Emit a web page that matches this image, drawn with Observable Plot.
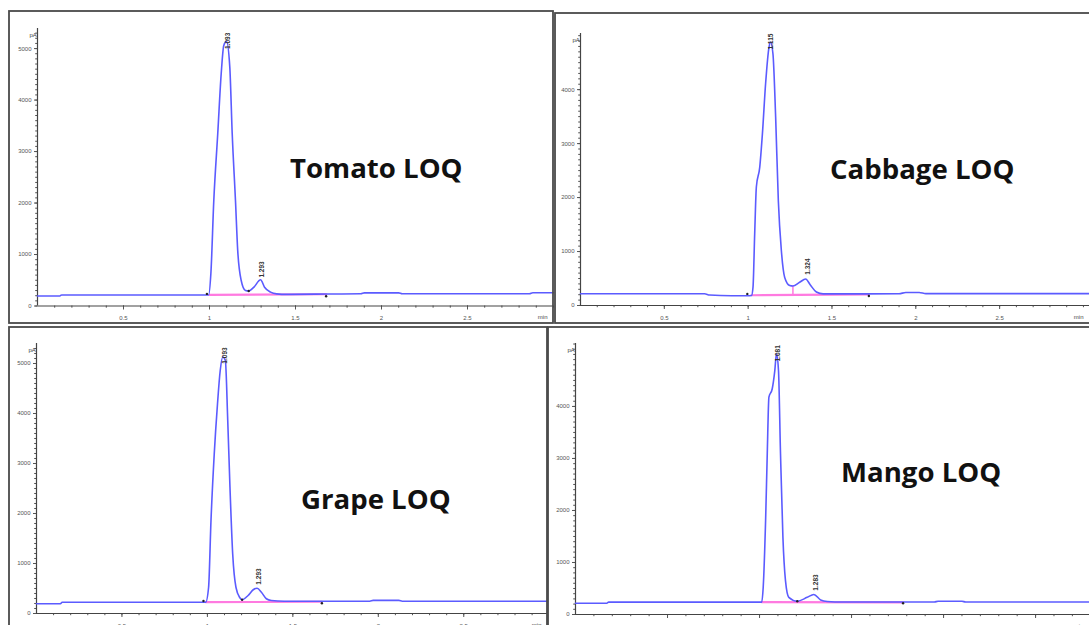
<!DOCTYPE html>
<html>
<head>
<meta charset="utf-8">
<script src="https://cdn.jsdelivr.net/npm/d3@7"></script>
<script src="https://cdn.jsdelivr.net/npm/@observablehq/plot@0.6"></script>
<style>
  html, body { margin: 0; padding: 0; background: #fff; }
  #root { position: relative; width: 1089px; height: 625px; overflow: hidden; background: #fff; }
  .panel { position: absolute; }
  #overlay { position: absolute; left: 0; top: 0; pointer-events: none; }
</style>
</head>
<body>
<div id="root"></div>
<script>
// ---------- shared tick labels ----------
const xTickValues = [0.5, 1, 1.5, 2, 2.5];
const yTicksTo5000 = [0, 1000, 2000, 3000, 4000, 5000];
const yTicksTo4000 = [0, 1000, 2000, 3000, 4000];
const unitLabel = "pA";
const timeUnitLabel = "min";

// ---------- Tomato LOQ ----------
const tomatoTitle = "Tomato LOQ";
const tomatoTime   = [0, 0.13, 0.14, 0.995, 1.008, 1.025, 1.048, 1.068, 1.083, 1.099, 1.118, 1.132, 1.151, 1.164, 1.184, 1.209, 1.228, 1.258, 1.297, 1.32, 1.355, 1.39, 1.45, 1.68, 1.88, 1.9, 2.1, 2.12, 2.86, 2.88, 3.0];
const tomatoSignal = [195, 195, 215, 215, 630, 2050, 3350, 4510, 5060, 5140, 4640, 3350, 2050, 1080, 500, 300, 290, 365, 510, 365, 270, 235, 225, 232, 237, 255, 255, 237, 237, 256, 256];
const tomatoPeakTime   = [1.105, 1.305];
const tomatoPeakSignal = [5150, 710];
const tomatoPeakText   = ["1.093", "1.293"];
const tomatoBaseTime   = [1.0, 1.678];
const tomatoBaseSignal = [215, 228];
const tomatoMarkTime   = [0.985, 1.228, 1.678];
const tomatoMarkSignal = [235, 290, 190];

// ---------- Cabbage LOQ ----------
const cabbageTitle = "Cabbage LOQ";
const cabbageTime   = [0, 0.74, 0.77, 0.9, 1.0, 1.02, 1.029, 1.039, 1.049, 1.069, 1.085, 1.104, 1.124, 1.134, 1.148, 1.164, 1.18, 1.198, 1.218, 1.248, 1.267, 1.307, 1.343, 1.371, 1.407, 1.447, 1.7, 1.9, 1.94, 2.02, 2.06, 3.04];
const cabbageSignal = [217, 217, 195, 180, 180, 185, 340, 1330, 2200, 2560, 3180, 4110, 4780, 4880, 4660, 3490, 1940, 1020, 520, 370, 360, 430, 490, 380, 250, 215, 215, 218, 240, 240, 220, 220];
const cabbagePeakTime   = [1.137, 1.355];
const cabbagePeakSignal = [4890, 722];
const cabbagePeakText   = ["1.115", "1.324"];
const cabbageBaseTime   = [1.02, 1.72];
const cabbageBaseSignal = [190, 205];
const cabbageDropTime   = [1.267];
const cabbageDropTop    = [360];
const cabbageMarkTime   = [0.995, 1.72];
const cabbageMarkSignal = [215, 175];

// ---------- Grape LOQ ----------
const grapeTitle = "Grape LOQ";
const grapeTime   = [0, 0.14, 0.15, 0.99, 1.007, 1.021, 1.04, 1.059, 1.075, 1.09, 1.105, 1.119, 1.132, 1.148, 1.167, 1.19, 1.203, 1.238, 1.268, 1.291, 1.316, 1.345, 1.374, 1.45, 1.95, 1.97, 2.12, 2.14, 2.99];
const grapeSignal = [194, 194, 226, 226, 525, 1860, 3190, 4190, 4860, 5130, 5060, 3860, 2530, 1190, 525, 315, 275, 360, 475, 505, 425, 295, 260, 245, 245, 262, 262, 245, 245];
const grapePeakTime   = [1.1, 1.3];
const grapePeakSignal = [5160, 740];
const grapePeakText   = ["1.093", "1.293"];
const grapeBaseTime   = [0.99, 1.67];
const grapeBaseSignal = [226, 235];
const grapeMarkTime   = [0.977, 1.203, 1.67];
const grapeMarkSignal = [250, 275, 205];

// ---------- Mango LOQ ----------
const mangoTitle = "Mango LOQ";
const mangoTime   = [0, 0.17, 0.18, 1.012, 1.02, 1.033, 1.042, 1.051, 1.069, 1.083, 1.092, 1.103, 1.114, 1.127, 1.141, 1.159, 1.205, 1.259, 1.295, 1.332, 1.368, 1.45, 1.95, 1.97, 2.1, 2.12, 2.8];
const mangoSignal = [217, 217, 237, 237, 525, 1810, 3090, 4180, 4340, 4690, 5010, 4690, 3090, 1490, 650, 330, 255, 330, 385, 280, 250, 240, 240, 255, 255, 240, 240];
const mangoPeakTime   = [1.099, 1.304];
const mangoPeakSignal = [5020, 615];
const mangoPeakText   = ["1.081", "1.283"];
const mangoBaseTime   = [1.012, 1.78];
const mangoBaseSignal = [237, 235];
const mangoMarkTime   = [1.205, 1.78];
const mangoMarkSignal = [255, 215];

// ---------- drawing ----------
const root = document.getElementById("root");
const BLUE = "#5b5bff";
const PINK = "#ff7ae0";
const AXIS = "#555";

function zip(xs, ys) { return xs.map((x, i) => ({x, y: ys[i]})); }

function drawPanel(p) {
  const trace = zip(p.time, p.signal);
  const base = zip(p.baseTime, p.baseSignal);
  const marks = zip(p.markTime, p.markSignal);
  const labels = p.peakTime.map((t, i) => ({x: t, y: p.peakSignal[i], text: p.peakText[i]}));
  const drops = (p.dropTime || []).map((t, i) => ({x: t, y1: p.dropBottom, y2: p.dropTop[i]}));
  const minorX = d3.range(0.1, p.xMax + 0.001, 0.1);
  const minorY = d3.range(0, p.yMax, 100);
  const chart = Plot.plot({
    width: p.w, height: p.h,
    marginLeft: p.ml, marginRight: 0, marginTop: p.mt, marginBottom: p.mb,
    x: {domain: [0, p.xMax], axis: null, label: null},
    y: {domain: [0, p.yMax], axis: null, label: null},
    style: {fontFamily: "'Liberation Sans', Arial, sans-serif", background: "transparent", overflow: "visible"},
    marks: [
      Plot.axisY({ticks: minorY, tickSize: 1.8, tickFormat: () => "", color: AXIS, label: null}),
      Plot.axisY({ticks: p.yTicks, tickSize: 3, tickPadding: 3, fontSize: 6, tickFormat: d => String(d), color: AXIS, label: null}),
      Plot.axisX({ticks: minorX, tickSize: 2.2, tickFormat: () => "", color: AXIS, label: null}),
      Plot.axisX({ticks: xTickValues, tickSize: 4, tickPadding: 6, fontSize: 6, tickFormat: d => String(d), color: AXIS, label: null}),
      Plot.ruleY([0], {stroke: "#444", strokeWidth: 1.2}),
      Plot.ruleX([0], {y1: 0, y2: p.yMax, stroke: "#444", strokeWidth: 1.2}),
      Plot.text([unitLabel], {frameAnchor: "top-left", dx: -8, dy: 4, fontSize: 6, fill: "#444"}),
      Plot.text([timeUnitLabel], {frameAnchor: "bottom-right", dx: -6, dy: 13, fontSize: 6, fill: "#444"}),
      Plot.line(base, {x: "x", y: "y", stroke: PINK, strokeWidth: 2.2}),
      Plot.ruleX(drops, {x: "x", y1: "y1", y2: "y2", stroke: PINK, strokeWidth: 1.5}),
      Plot.line(trace, {x: "x", y: "y", stroke: BLUE, strokeWidth: 1.6, curve: "monotone-x"}),
      Plot.dot(marks, {x: "x", y: "y", r: 1.2, fill: "#222", stroke: "none"}),
      Plot.text(labels, {x: "x", y: "y", text: "text", rotate: -90, fontSize: 6.5, fill: "#333", fontWeight: "bold"})
    ]
  });
  chart.classList.add("panel");
  chart.style.left = p.left + "px";
  chart.style.top = p.top + "px";
  root.appendChild(chart);
}

const panels = [
  {title: tomatoTitle, time: tomatoTime, signal: tomatoSignal, peakTime: tomatoPeakTime, peakSignal: tomatoPeakSignal, peakText: tomatoPeakText,
   baseTime: tomatoBaseTime, baseSignal: tomatoBaseSignal, markTime: tomatoMarkTime, markSignal: tomatoMarkSignal,
   yTicks: yTicksTo5000, left: 9, top: 11, w: 544, h: 313, ml: 28, mt: 17, mb: 18.5, xMax: 3.0, yMax: 5390,
   titleX: 290, titleY: 178},
  {title: cabbageTitle, time: cabbageTime, signal: cabbageSignal, peakTime: cabbagePeakTime, peakSignal: cabbagePeakSignal, peakText: cabbagePeakText,
   baseTime: cabbageBaseTime, baseSignal: cabbageBaseSignal, markTime: cabbageMarkTime, markSignal: cabbageMarkSignal,
   dropTime: cabbageDropTime, dropTop: cabbageDropTop, dropBottom: 195,
   yTicks: yTicksTo4000, left: 555, top: 13, w: 534, h: 310, ml: 25, mt: 20, mb: 18, xMax: 3.036, yMax: 5040,
   titleX: 830, titleY: 179},
  {title: grapeTitle, time: grapeTime, signal: grapeSignal, peakTime: grapePeakTime, peakSignal: grapePeakSignal, peakText: grapePeakText,
   baseTime: grapeBaseTime, baseSignal: grapeBaseSignal, markTime: grapeMarkTime, markSignal: grapeMarkSignal,
   yTicks: yTicksTo5000, left: 9, top: 327, w: 538, h: 298, ml: 27, mt: 16, mb: 12, xMax: 2.99, yMax: 5400,
   titleX: 301, titleY: 509},
  {title: mangoTitle, time: mangoTime, signal: mangoSignal, peakTime: mangoPeakTime, peakSignal: mangoPeakSignal, peakText: mangoPeakText,
   baseTime: mangoBaseTime, baseSignal: mangoBaseSignal, markTime: mangoMarkTime, markSignal: mangoMarkSignal,
   yTicks: yTicksTo4000, left: 548, top: 327, w: 541, h: 298, ml: 27, mt: 16, mb: 11, xMax: 2.793, yMax: 5210,
   titleX: 841, titleY: 482}
];

panels.forEach(drawPanel);

// overlay: panel frames and titles
const overlay = d3.select(root).append("svg")
  .attr("id", "overlay").attr("width", 1089).attr("height", 625);
const frames = [
  {x: 9, y: 11, w: 544, h: 312},
  {x: 555, y: 13, w: 545, h: 310},
  {x: 9, y: 327, w: 538, h: 310},
  {x: 548, y: 327, w: 552, h: 310}
];
overlay.selectAll("rect.frame").data(frames).join("rect")
  .attr("class", "frame")
  .attr("x", d => d.x).attr("y", d => d.y).attr("width", d => d.w).attr("height", d => d.h)
  .attr("fill", "none").attr("stroke", "#4a4a4a").attr("stroke-width", 1.8);
overlay.selectAll("text.title").data(panels).join("text")
  .attr("class", "title")
  .attr("x", d => d.titleX).attr("y", d => d.titleY)
  .attr("font-family", "'Open Sans', sans-serif").attr("font-weight", 700).attr("font-size", 27.6)
  .attr("fill", "#111")
  .text(d => d.title);
</script>
</body>
</html>
